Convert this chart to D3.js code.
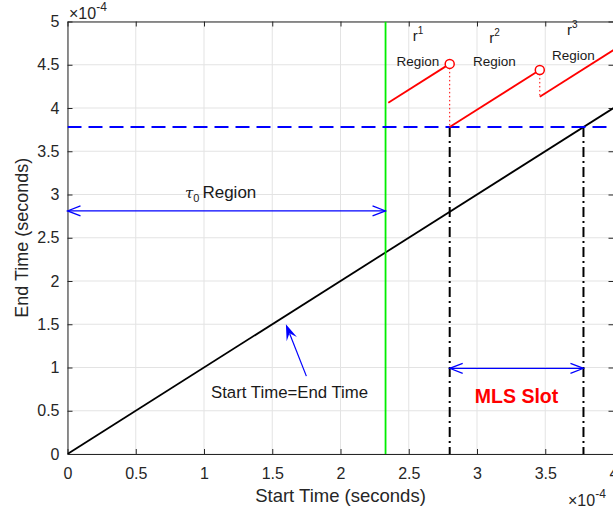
<!DOCTYPE html>
<html><head><meta charset="utf-8">
<script src="https://cdn.jsdelivr.net/npm/d3@7"></script>
<style>body{margin:0;background:#fff}svg{display:block;font-family:"Liberation Sans",Arial,sans-serif}</style>
</head><body><svg id="c" width="613" height="512"></svg>
<script>
// ---- data (units of 1e-4 seconds) ----
const xTicks = [0, 0.5, 1, 1.5, 2, 2.5, 3, 3.5, 4];
const yTicks = [0, 0.5, 1, 1.5, 2, 2.5, 3, 3.5, 4, 4.5, 5];
const xTickLabels = ["0", "0.5", "1", "1.5", "2", "2.5", "3", "3.5", "4"];
const yTickLabels = ["0", "0.5", "1", "1.5", "2", "2.5", "3", "3.5", "4", "4.5", "5"];
const diagonal = [[0, 0], [4, 4]];
const tau0 = 2.33;          // green vertical line
const slotLevel = 3.78;     // blue dashed horizontal
const slotStart = 2.8, slotEnd = 3.78;
const rSegments = [
  [[2.35, 4.06], [2.80, 4.51]],
  [[2.80, 3.78], [3.46, 4.44]],
  [[3.46, 4.13], [4.00, 4.67]]
];
const rCircles = [[2.80, 4.51], [3.46, 4.44]];
const rDrops = [[[2.80, 4.51], [2.80, 3.78]], [[3.46, 4.44], [3.46, 4.13]]];
const rLabels = [
  {sup: "1", r: [2.53, 4.77], reg: [2.41, 4.48]},
  {sup: "2", r: [3.09, 4.75], reg: [2.97, 4.48]},
  {sup: "3", r: [3.66, 4.84], reg: [3.55, 4.56]}
];
const tauArrow = {y: 2.81, x0: 0, x1: tau0};
const mlsArrow = {y: 0.99, x0: slotStart, x1: slotEnd};
const diagArrow = {from: [1.75, 0.90], to: [1.60, 1.50]};

// ---- layout ----
const svg = d3.select("#c");
const x = d3.scaleLinear().domain([0, 4]).range([67.5, 613.5]);
const y = d3.scaleLinear().domain([0, 5]).range([454, 21.5]);
const X0 = x(0), X1 = x(4), Y0 = y(0), Y1 = y(5);
const axisCol = "#262626";

// grid
const g = svg.append("g");
g.selectAll(".gx").data(xTicks).join("line")
  .attr("x1", d => x(d)).attr("x2", d => x(d)).attr("y1", Y0).attr("y2", Y1)
  .attr("stroke", "#e3e3e3").attr("stroke-width", 1);
g.selectAll(".gy").data(yTicks).join("line").attr("class","gy")
  .attr("y1", d => y(d)).attr("y2", d => y(d)).attr("x1", X0).attr("x2", X1)
  .attr("stroke", "#e3e3e3").attr("stroke-width", 1);

// axes
const xa = d3.axisBottom(x).tickValues(xTicks).tickFormat((d, i) => xTickLabels[i]).tickSizeInner(-5).tickSizeOuter(0).tickPadding(14);
const ya = d3.axisLeft(y).tickValues(yTicks).tickFormat((d, i) => yTickLabels[i]).tickSizeInner(-5).tickSizeOuter(0).tickPadding(8);
const xt = d3.axisTop(x).tickValues(xTicks).tickFormat("").tickSizeInner(-5).tickSizeOuter(0);
const yr = d3.axisRight(y).tickValues(yTicks).tickFormat("").tickSizeInner(-5).tickSizeOuter(0);
function styleAxis(sel) {
  sel.select(".domain").attr("stroke", axisCol).attr("stroke-width", 1);
  sel.selectAll(".tick line").attr("stroke", axisCol);
  sel.selectAll(".tick text").attr("fill", axisCol).style("font-size", "16px").style("font-family", '"Liberation Sans",Arial,sans-serif');
}
svg.append("g").attr("transform", `translate(0,${Y0})`).call(xa).call(styleAxis);
svg.append("g").attr("transform", `translate(${X0},0)`).call(ya).call(styleAxis);
svg.append("g").attr("transform", `translate(0,${Y1})`).call(xt).call(styleAxis);
svg.append("g").attr("transform", `translate(${X1},0)`).call(yr).call(styleAxis);

// axis titles
svg.append("text").attr("x", (X0 + X1) / 2).attr("y", 502).attr("text-anchor", "middle")
  .attr("fill", axisCol).style("font-size", "18.5px").text("Start Time (seconds)");
svg.append("text").attr("transform", `translate(28,${(Y0 + Y1) / 2}) rotate(-90)`).attr("text-anchor", "middle")
  .attr("fill", axisCol).style("font-size", "18px").text("End Time (seconds)");

// exponent labels
function expLabel(xp, yp) {
  const t = svg.append("text").attr("x", xp).attr("y", yp).attr("fill", axisCol).style("font-size", "16px");
  t.append("tspan").text("\u00d710");
  t.append("tspan").attr("dy", -8).style("font-size", "12px").text("-4");
}
expLabel(69, 19);
expLabel(568, 506);

// plot clip
svg.append("clipPath").attr("id", "pc").append("rect").attr("x", X0).attr("y", Y1).attr("width", X1 - X0).attr("height", Y0 - Y1);
const p = svg.append("g").attr("clip-path", "url(#pc)");
const line = d3.line().x(d => x(d[0])).y(d => y(d[1]));

// black dash-dot verticals
[slotStart, slotEnd].forEach(v => {
  p.append("line").attr("x1", x(v)).attr("x2", x(v)).attr("y1", y(slotLevel)).attr("y2", Y0)
    .attr("stroke", "#000").attr("stroke-width", 2).attr("stroke-dasharray", "10,4,2,4");
});
// diagonal
p.append("path").attr("d", line(diagonal)).attr("stroke", "#000").attr("stroke-width", 1.8).attr("fill", "none");
// green
p.append("line").attr("x1", x(tau0)).attr("x2", x(tau0)).attr("y1", Y0).attr("y2", Y1)
  .attr("stroke", "#00ee00").attr("stroke-width", 1.8);
// blue dashed
p.append("line").attr("x1", X0).attr("x2", X1).attr("y1", y(slotLevel)).attr("y2", y(slotLevel))
  .attr("stroke", "#0000ff").attr("stroke-width", 2).attr("stroke-dasharray", "14,7");
// red segments
rSegments.forEach(s => p.append("path").attr("d", line(s)).attr("stroke", "#ff0000").attr("stroke-width", 1.8).attr("fill", "none"));
rDrops.forEach(s => p.append("path").attr("d", line(s)).attr("stroke", "#ff0000").attr("stroke-width", 1).attr("stroke-dasharray", "1.5,2.5").attr("fill", "none"));
p.selectAll(".rc").data(rCircles).join("circle").attr("cx", d => x(d[0])).attr("cy", d => y(d[1])).attr("r", 4.5)
  .attr("fill", "#fff").attr("stroke", "#ff0000").attr("stroke-width", 1.5);

// r labels
rLabels.forEach(l => {
  const t = svg.append("text").attr("x", x(l.r[0])).attr("y", y(l.r[1])).attr("fill", "#1a1a1a").style("font-size", "15px");
  t.append("tspan").text("r");
  t.append("tspan").attr("dy", -7).style("font-size", "10px").text(l.sup);
  svg.append("text").attr("x", x(l.reg[0])).attr("y", y(l.reg[1])).attr("fill", "#1a1a1a").style("font-size", "13.5px").text("Region");
});

// double arrows
function openHead(x0, y0, ang) {
  const L = 13, W = 5;
  const c = Math.cos(ang), s = Math.sin(ang);
  return `M${x0 - L * c - W * s},${y0 - L * s + W * c}L${x0},${y0}L${x0 - L * c + W * s},${y0 - L * s - W * c}`;
}
function dblArrow(a) {
  const yy = y(a.y), xa0 = x(a.x0), xa1 = x(a.x1);
  svg.append("line").attr("x1", xa0).attr("x2", xa1).attr("y1", yy).attr("y2", yy).attr("stroke", "#0000ff").attr("stroke-width", 1.2);
  svg.append("path").attr("d", openHead(xa1, yy, 0) + openHead(xa0, yy, Math.PI)).attr("stroke", "#0000ff").attr("stroke-width", 1.2).attr("fill", "none");
}
dblArrow(tauArrow);
dblArrow(mlsArrow);

// tau0 label
const tt = svg.append("text").attr("x", 185).attr("y", 198).attr("fill", "#1a1a1a").style("font-size", "17px");
tt.append("tspan").style("font-family", '"DejaVu Serif",serif').style("font-style", "italic").style("font-size", "15px").text("\u03c4");
tt.append("tspan").attr("dy", 4).style("font-size", "11px").text("0");
tt.append("tspan").attr("dy", -4).attr("dx", 3).text("Region");

// MLS slot label
svg.append("text").attr("x", (x(slotStart) + x(slotEnd)) / 2).attr("y", 403).attr("text-anchor", "middle")
  .attr("fill", "#ff0000").style("font-size", "19.5px").style("font-weight", "bold").text("MLS Slot");

// diagonal annotation arrow
const fx = x(diagArrow.from[0]), fy = y(diagArrow.from[1]), tx = x(diagArrow.to[0]), ty = y(diagArrow.to[1]);
const ang = Math.atan2(ty - fy, tx - fx);
svg.append("line").attr("x1", fx).attr("y1", fy).attr("x2", tx - 10 * Math.cos(ang)).attr("y2", ty - 10 * Math.sin(ang))
  .attr("stroke", "#0000ff").attr("stroke-width", 1.2);
{
  const L = 16, W = 5.5, c = Math.cos(ang), s = Math.sin(ang);
  svg.append("path").attr("d", `M${tx},${ty}L${tx - L * c - W * s},${ty - L * s + W * c}L${tx - 0.6 * L * c},${ty - 0.6 * L * s}L${tx - L * c + W * s},${ty - L * s - W * c}Z`)
    .attr("fill", "#0000ff");
}
svg.append("text").attr("x", 211).attr("y", 398).attr("fill", "#1a1a1a").style("font-size", "16.8px").text("Start Time=End Time");
</script></body></html>
